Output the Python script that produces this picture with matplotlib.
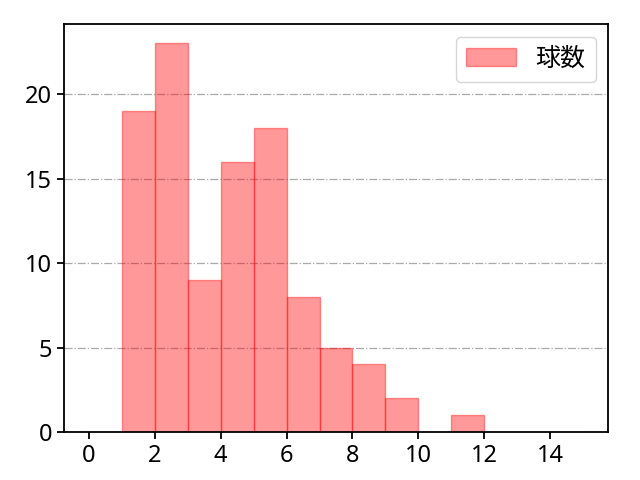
import matplotlib
matplotlib.use('Agg')
import matplotlib.pyplot as plt

# Pitch count histogram (bins of width 1)
bin_edges = list(range(0, 16))
bin_counts = [0, 19, 23, 9, 16, 18, 8, 5, 4, 2, 0, 1, 0, 0, 0]
series_label = '球数'

plt.rcParams['font.family'] = ['Noto Sans', 'Noto Sans CJK JP']
plt.rcParams['font.size'] = 17

fig, ax = plt.subplots(figsize=(6.4, 4.8), dpi=100)
fig.subplots_adjust(left=0.1, right=0.95, top=0.95, bottom=0.1)

# Bin centers weighted by counts reproduce the histogram
centers = [e + 0.5 for e in bin_edges[:-1]]
ax.hist(centers, bins=bin_edges, weights=bin_counts,
        color='red', alpha=0.4, edgecolor='red', label=series_label)

ax.grid(axis='y', linestyle='-.', color='#aaaaaa', linewidth=0.9)
ax.set_axisbelow(True)
ax.set_xticks(range(0, 16, 2))
for side in ax.spines.values():
    side.set_linewidth(1.3)
ax.tick_params(width=1.3, length=5)
ax.legend(loc='upper right', fontsize=18)

plt.savefig('out.png', dpi=100)
